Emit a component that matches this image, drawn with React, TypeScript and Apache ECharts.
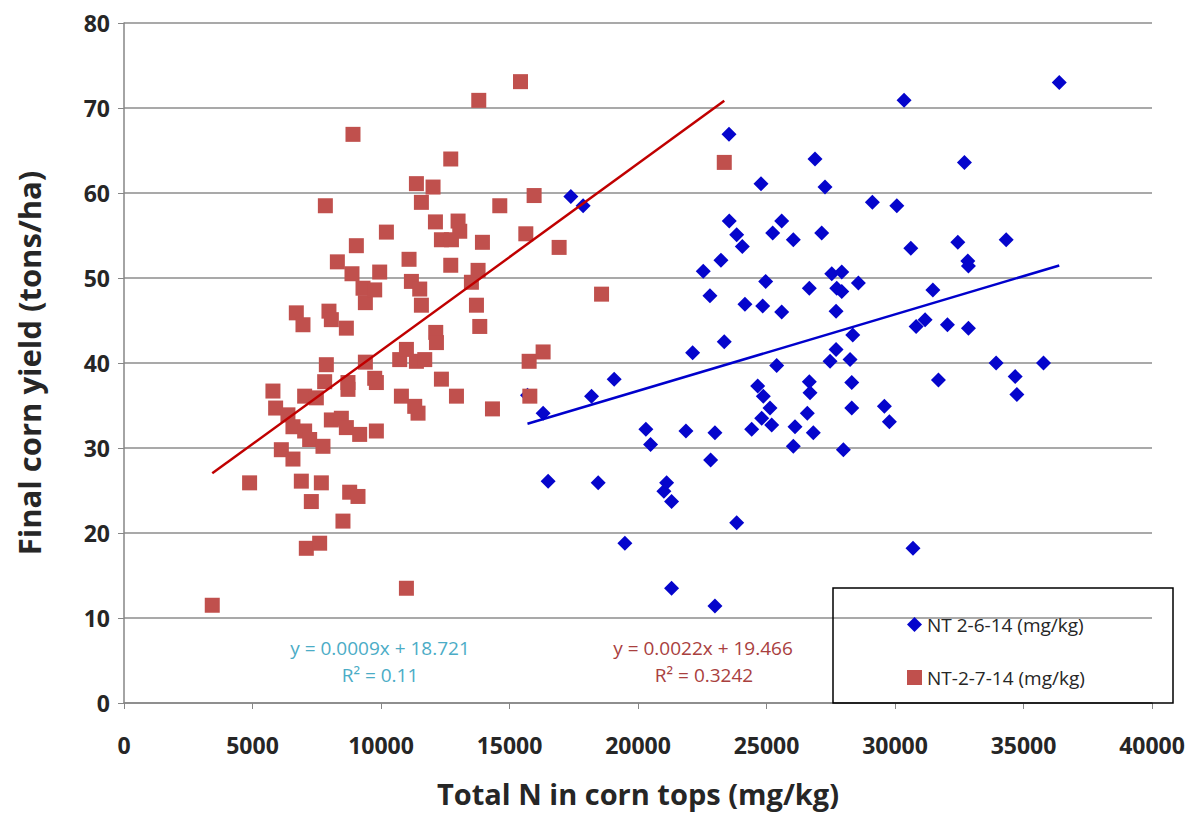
import React, { useEffect, useRef } from "react";
import * as echarts from "echarts";

// NT 2-6-14 (mg/kg) — blue diamonds
const blueX = [15700, 16308, 16503, 17387, 17866, 18192, 18450, 19073, 19489, 20307, 20490, 21008, 21113, 21307, 21307, 21865, 22126, 22539, 22799, 22827, 22994, 22994, 23228, 23357, 23540, 23551, 23839, 23839, 24058, 24162, 24423, 24657, 24786, 24812, 24851, 24876, 24968, 25137, 25202, 25241, 25397, 25592, 25592, 26043, 26043, 26108, 26588, 26666, 26666, 26693, 26822, 26888, 27147, 27277, 27473, 27539, 27706, 27706, 27733, 27928, 27928, 27991, 28252, 28317, 28317, 28356, 28574, 29120, 29587, 29782, 30070, 30353, 30615, 30700, 30821, 31171, 31474, 31691, 32040, 32445, 32702, 32834, 32857, 32857, 33936, 34326, 34676, 34742, 35778, 36391];
const blueY = [36.2, 34.1, 26.1, 59.6, 58.5, 36.1, 25.9, 38.1, 18.8, 32.2, 30.4, 24.9, 25.9, 23.7, 13.5, 32.0, 41.2, 50.8, 47.9, 28.6, 31.8, 11.4, 52.1, 42.5, 66.9, 56.7, 55.1, 21.2, 53.7, 46.9, 32.2, 37.3, 61.1, 33.5, 46.7, 36.1, 49.6, 34.7, 32.7, 55.3, 39.7, 56.7, 46.0, 54.5, 30.2, 32.5, 34.1, 48.8, 37.8, 36.5, 31.8, 64.0, 55.3, 60.7, 40.2, 50.5, 46.1, 41.6, 48.8, 50.7, 48.4, 29.8, 40.4, 37.7, 34.7, 43.3, 49.4, 58.9, 34.9, 33.1, 58.5, 70.9, 53.5, 18.2, 44.3, 45.1, 48.6, 38.0, 44.5, 54.2, 63.6, 52.0, 51.4, 44.1, 40.0, 54.5, 38.4, 36.3, 40.0, 73.0];

// NT-2-7-14 (mg/kg) — red squares
const redX = [3434, 4887, 5795, 5900, 6122, 6379, 6574, 6574, 6705, 6900, 6964, 7029, 7029, 7094, 7224, 7289, 7484, 7613, 7679, 7742, 7808, 7835, 7873, 7975, 8068, 8068, 8302, 8457, 8520, 8652, 8652, 8715, 8715, 8781, 8871, 8910, 9041, 9105, 9170, 9300, 9392, 9392, 9755, 9755, 9820, 9820, 9949, 10210, 10728, 10794, 10989, 10989, 11091, 11183, 11312, 11378, 11378, 11441, 11507, 11572, 11572, 11702, 12025, 12118, 12130, 12157, 12351, 12351, 12714, 12714, 12741, 12936, 12999, 13064, 13518, 13714, 13777, 13804, 13843, 13947, 14337, 14622, 15428, 15635, 15764, 15791, 15958, 16308, 16931, 18582, 23357];
const redY = [11.5, 25.9, 36.7, 34.7, 29.8, 33.9, 32.5, 28.7, 45.9, 26.1, 44.5, 36.1, 32.0, 18.2, 31.0, 23.7, 35.9, 18.8, 25.9, 30.2, 37.8, 58.5, 39.8, 46.1, 45.1, 33.3, 51.9, 33.5, 21.4, 44.1, 32.4, 37.7, 36.9, 24.8, 50.5, 66.9, 53.8, 24.3, 31.6, 48.8, 47.1, 40.1, 48.6, 38.2, 37.7, 32.0, 50.7, 55.4, 40.4, 36.1, 41.6, 13.5, 52.2, 49.6, 34.9, 61.1, 40.2, 34.1, 48.7, 58.9, 46.8, 40.4, 60.7, 56.6, 43.6, 42.4, 54.5, 38.1, 64.0, 51.5, 54.5, 36.1, 56.7, 55.5, 49.5, 46.8, 50.9, 70.9, 44.3, 54.2, 34.6, 58.5, 73.1, 55.2, 40.2, 36.1, 59.7, 41.3, 53.6, 48.1, 63.6];

// Trendline equations as printed on the chart
const blueSlope = 0.0009;
const blueIntercept = 18.721;
const redSlope = 0.0022;
const redIntercept = 19.466;

const blueName = "NT 2-6-14 (mg/kg)";
const redName = "NT-2-7-14 (mg/kg)";
const blueEq = ["y = 0.0009x + 18.721", "R\u00B2 = 0.11"];
const redEq = ["y = 0.0022x + 19.466", "R\u00B2 = 0.3242"];

const xTitle = "Total N in corn tops (mg/kg)";
const yTitle = "Final corn yield (tons/ha)";

function trend(xs: number[], m: number, b: number) {
  const lo = Math.min(...xs);
  const hi = Math.max(...xs);
  return [
    [lo, m * lo + b],
    [hi, m * hi + b],
  ];
}

export default function App() {
  const ref = useRef<HTMLDivElement>(null);
  useEffect(() => {
    document.body.style.margin = "0";
    if (!ref.current) return;
    const chart = echarts.init(ref.current, undefined, { renderer: "svg" });
    const axisFont = '"Open Sans", "Noto Sans", sans-serif';
    const eqFont = '19px "Open Sans", sans-serif';
    chart.setOption({
      animation: false,
      backgroundColor: "#ffffff",
      grid: { left: 124, right: 50, top: 23, bottom: 113, containLabel: false },
      xAxis: {
        type: "value",
        min: 0,
        max: 40000,
        interval: 5000,
        name: xTitle,
        nameLocation: "middle",
        nameGap: 76,
        nameTextStyle: { fontFamily: axisFont, fontWeight: "bold", fontSize: 29, color: "#262626" },
        axisLine: { show: true, lineStyle: { color: "#868686", width: 1.5 } },
        axisTick: { show: true, inside: false, length: 6, lineStyle: { color: "#868686" } },
        splitLine: { show: false },
        axisLabel: {
          fontFamily: axisFont,
          fontWeight: "bold",
          fontSize: 23,
          color: "#262626",
          margin: 30,
          formatter: (v: number) => String(v),
        },
      },
      yAxis: {
        type: "value",
        min: 0,
        max: 80,
        interval: 10,
        name: yTitle,
        nameLocation: "middle",
        nameGap: 80,
        nameRotate: 90,
        nameTextStyle: { fontFamily: axisFont, fontWeight: "bold", fontSize: 31, color: "#262626" },
        axisLine: { show: true, lineStyle: { color: "#868686", width: 1.5 } },
        axisTick: { show: true, inside: false, length: 6, lineStyle: { color: "#868686" } },
        splitLine: { show: true, lineStyle: { color: "#8c8c8c", width: 1.5 } },
        axisLabel: { fontFamily: axisFont, fontWeight: "bold", fontSize: 23, color: "#262626", margin: 14 },
      },
      legend: {
        data: [blueName, redName],
        orient: "vertical",
        left: 902,
        top: 610,
        itemGap: 34,
        itemWidth: 15,
        itemHeight: 15,
        textStyle: { fontFamily: axisFont, fontSize: 19, color: "#262626" },
      },
      graphic: [
        {
          type: "rect",
          shape: { x: 833, y: 588, width: 340, height: 115 },
          style: { fill: "none", stroke: "#000000", lineWidth: 1.5 },
          z: 100,
        },
        {
          type: "text",
          x: 380,
          y: 648,
          style: { text: blueEq[0], fill: "#4bacc6", font: eqFont, textAlign: "center", textVerticalAlign: "middle" },
        },
        {
          type: "text",
          x: 380,
          y: 675,
          style: { text: blueEq[1], fill: "#4bacc6", font: eqFont, textAlign: "center", textVerticalAlign: "middle" },
        },
        {
          type: "text",
          x: 703,
          y: 648,
          style: { text: redEq[0], fill: "#a9403e", font: eqFont, textAlign: "center", textVerticalAlign: "middle" },
        },
        {
          type: "text",
          x: 704,
          y: 675,
          style: { text: redEq[1], fill: "#a9403e", font: eqFont, textAlign: "center", textVerticalAlign: "middle" },
        },
      ],
      series: [
        {
          name: blueName,
          type: "scatter",
          symbol: "diamond",
          symbolSize: 15,
          itemStyle: { color: "#0505cc", opacity: 1 },
          data: blueX.map((x, i) => [x, blueY[i]]),
          z: 3,
        },
        {
          name: redName,
          type: "scatter",
          symbol: "rect",
          symbolSize: 15,
          itemStyle: { color: "#c0504d", opacity: 1 },
          data: redX.map((x, i) => [x, redY[i]]),
          z: 4,
        },
        {
          name: "redTrend",
          type: "line",
          showSymbol: false,
          symbol: "none",
          lineStyle: { color: "#c00000", width: 2.5 },
          data: trend(redX, redSlope, redIntercept),
          z: 5,
        },
        {
          name: "blueTrend",
          type: "line",
          showSymbol: false,
          symbol: "none",
          lineStyle: { color: "#0000cc", width: 2.5 },
          data: trend(blueX, blueSlope, blueIntercept),
          z: 6,
        },
      ],
    });
    return () => chart.dispose();
  }, []);
  return <div ref={ref} style={{ width: 1202, height: 816 }} />;
}
